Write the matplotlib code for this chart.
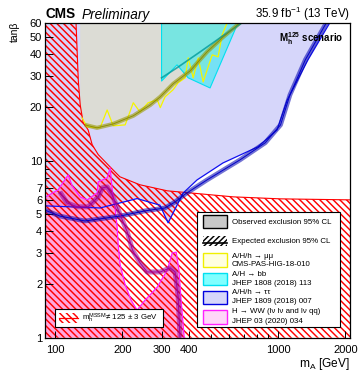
import numpy as np
import matplotlib
matplotlib.use('Agg')
import matplotlib.pyplot as plt
from matplotlib.patches import Polygon, Rectangle
from matplotlib.ticker import FixedLocator, NullFormatter, FixedFormatter

plt.rcParams['font.family'] = ['Liberation Sans', 'DejaVu Sans']
plt.rcParams['mathtext.default'] = 'regular'
plt.rcParams['hatch.linewidth'] = 1.05

# m_h^MSSM != 125 +- 3 GeV boundary (excluded below / left)
mh_mA = [124, 127, 129.5, 133.5, 140.5, 146.5, 156, 176.5, 195, 240, 318, 402, 628, 1020, 2100]
mh_tb = [60, 28.1, 20.6, 16.4, 14.9, 12.3, 10.8, 9.2, 8.1, 7.3, 6.75, 6.57, 6.24, 6.08, 6.0]

# A/H/h -> tautau (observed, expected)
tt_obs_mA = [90, 159, 233, 295, 321, 375, 433, 566, 811, 989, 1097, 1362, 1706]
tt_obs_tb = [5.55, 5.4, 6.1, 5.6, 4.45, 6.56, 7.78, 9.7, 11.95, 14.9, 21.9, 37.1, 60]
tt_exp_mA = [90, 105, 136, 195, 253, 311, 345, 383, 480, 675, 875, 1025, 1130, 1325, 1646]
tt_exp_tb = [5.25, 4.86, 4.56, 4.86, 5.2, 5.4, 5.84, 6.47, 7.78, 10.1, 12.6, 15.9, 23.5, 37.1, 60]

# A/H/h -> mumu (observed, expected)
mm_left = 129.5
mm_obs_mA = [132, 139, 159, 171, 182, 206, 224, 240, 261, 287, 296, 311, 338, 356, 383,
             395, 416, 438, 461, 506, 538, 561, 591]
mm_obs_tb = [17.4, 15.5, 15.3, 19.3, 15.7, 15.9, 21.2, 18.8, 21.2, 22.0, 19.9, 22.9, 25.1, 27.5, 29.3,
             38.0, 29.3, 38.0, 27.8, 39.5, 38.5, 51.3, 60]
mm_exp_mA = [136, 154, 182, 224, 267, 296, 338, 403, 480, 561, 675]
mm_exp_tb = [15.9, 15.3, 16.1, 17.9, 20.6, 22.9, 27.1, 32.1, 41.1, 49.3, 60]

# A/H -> bb (observed, expected)
bb_obs_mA = [300, 300, 352, 395, 495, 661]
bb_obs_tb = [60, 28.1, 34.7, 29.3, 25.7, 60]
bb_exp_mA = [300, 352, 447, 549, 689]
bb_exp_tb = [29.3, 33.4, 41.1, 49.3, 60]

# H -> WW (observed, expected)
ww_obs_mA = [90, 103, 114.4, 119.2, 129.5, 139.2, 154.3, 155.9, 171.1, 176.5, 180.2, 185.7, 189.6,
             191.7, 195.6, 206, 219, 233, 253, 287, 318, 335, 349, 359, 367, 379]
ww_obs_tb = [6.2, 6.83, 8.3, 7.19, 6.24, 6.0, 6.57, 7.58, 7.99, 9.09, 6.83, 5.4, 4.22,
             3.34, 2.58, 1.99, 1.63, 1.43, 1.63, 1.93, 2.41, 3.01, 3.04, 2.41, 1.63, 1.0]
ww_exp_mA = [105, 113, 125.5, 140.5, 156, 162.5, 171, 180, 189.6, 200, 210.5, 222, 240.5, 258.6,
             296, 327.5, 345, 356, 363]
ww_exp_tb = [6.66, 5.77, 5.48, 5.48, 6.24, 7.01, 7.1, 6.4, 5.48, 4.62, 3.96, 3.13, 2.64, 2.35,
             2.35, 2.48, 2.35, 1.70, 1.0]

x_major = [100, 200, 300, 400, 1000, 2000]
y_major = [1, 2, 3, 4, 5, 6, 7, 10, 20, 30, 40, 50, 60]

fig = plt.figure(figsize=(3.59, 3.73), dpi=100)
ax = fig.add_axes([0.1253, 0.0946, 0.8496, 0.8445])
ax.set_xscale('log')
ax.set_yscale('log')
ax.set_xlim(90, 2100)
ax.set_ylim(1, 60)
x0, x1 = ax.get_xlim()
y0, y1 = ax.get_ylim()


def poly(xs, ys, **kw):
    p = Polygon(np.column_stack([xs, ys]), closed=True, **kw)
    ax.add_patch(p)
    return p


# tautau observed exclusion (lavender)
poly(tt_obs_mA + [x0], tt_obs_tb + [y1], facecolor='#d6d6fa', edgecolor='none', zorder=1)
# mumu observed exclusion
poly([mm_left, mm_left] + mm_obs_mA, [y1, mm_obs_tb[0]] + mm_obs_tb,
     facecolor='#dcdcd5', edgecolor='none', zorder=1.1)
# bb observed exclusion
poly(bb_obs_mA, bb_obs_tb, facecolor='#00f0f0', alpha=0.45, edgecolor='none', zorder=1.2)
ax.plot(bb_obs_mA, bb_obs_tb, color='#00e0f0', lw=0.8, zorder=1.25)
# WW observed exclusion
poly(ww_obs_mA + [x0], ww_obs_tb + [y0], facecolor='#ff70c8', alpha=0.62, edgecolor='none', zorder=1.3)
ax.plot(ww_obs_mA, ww_obs_tb, color='#ff20ff', lw=0.9, zorder=2.5)

# mh constraint, red hatch
poly([x0] + mh_mA + [x1, x0], [y1] + mh_tb + [y0, y0], facecolor='none', edgecolor='#ff0000',
     lw=0, hatch='\\' * 5, zorder=1.5)
ax.plot(mh_mA, mh_tb, color='red', lw=0.8, zorder=2)

# observed lines
ax.plot(tt_obs_mA, tt_obs_tb, color='#1010f0', lw=0.9, zorder=2.6)
ax.plot(mm_obs_mA, mm_obs_tb, color='#f5f500', lw=0.9, zorder=2.6)

# expected bands
ax.plot(tt_exp_mA, tt_exp_tb, color='#0000b0', lw=3.4, alpha=0.55, zorder=2.7, solid_capstyle='butt')
ax.plot(tt_exp_mA, tt_exp_tb, color='#0000c8', lw=0.7, zorder=2.8)
ax.plot(ww_exp_mA, ww_exp_tb, color='#900090', lw=3.6, alpha=0.55, zorder=2.7, solid_capstyle='butt')
ax.plot(ww_exp_mA, ww_exp_tb, color='#a000a0', lw=0.7, zorder=2.8)
ax.plot(mm_exp_mA, mm_exp_tb, color='#9a9a00', lw=3.0, alpha=0.6, zorder=2.7, solid_capstyle='butt')
ax.plot(mm_exp_mA, mm_exp_tb, color='#8a8a00', lw=0.6, zorder=2.8)
ax.plot(bb_exp_mA, bb_exp_tb, color='#009a9a', lw=1.2, alpha=0.8, zorder=2.75)

# axes styling
ax.xaxis.set_major_locator(FixedLocator(x_major))
ax.xaxis.set_major_formatter(FixedFormatter([str(v) for v in x_major]))
ax.xaxis.set_minor_locator(FixedLocator([500, 600, 700, 800, 900]))
ax.xaxis.set_minor_formatter(NullFormatter())
ax.yaxis.set_major_locator(FixedLocator(y_major))
ax.yaxis.set_major_formatter(FixedFormatter([str(v) for v in y_major]))
ax.yaxis.set_minor_locator(FixedLocator([8, 9]))
ax.yaxis.set_minor_formatter(NullFormatter())
ax.tick_params(which='both', direction='in', labelsize=8, width=0.7, zorder=20)
ax.tick_params(axis='x', which='major', length=5, pad=5)
ax.tick_params(axis='y', which='major', length=5.5, pad=2)
ax.tick_params(which='minor', length=3)
for s in ax.spines.values():
    s.set_linewidth(0.9)
    s.set_zorder(20)

# texts
fig.text(45 / 359, 1 - 18.5 / 373, 'CMS', weight='bold', size=9.8, va='baseline', ha='left')
fig.text(82 / 359, 1 - 18.5 / 373, 'Preliminary', style='italic', size=9.8, va='baseline', ha='left')
fig.text(350 / 359, 1 - 18 / 373, '35.9 fb$^{-1}$ (13 TeV)', size=8.4, va='baseline', ha='right')
fig.text(15 / 359, 1 - 22 / 373, 'tanβ', rotation=90, size=7.5, ha='center', va='top')
fig.text(350 / 359, 1 - 364 / 373, 'm$_A$ [GeV]', size=8.6, ha='right', va='center')
ax.text(0.977, 0.951, '$M_h^{125}$ scenario', weight='bold', size=7, ha='right', va='center',
        transform=ax.transAxes, zorder=12)

# main legend
T = ax.transAxes
ax.add_patch(Rectangle((0.498, 0.034), 0.469, 0.365, transform=T, facecolor='white',
                       edgecolor='black', lw=0.8, zorder=10))
px, pw, tx = 0.518, 0.079, 0.613
ls = 5.7
ax.add_patch(Rectangle((px, 0.348), pw, 0.041, transform=T, facecolor='#c8c8c8',
                       edgecolor='black', lw=1.0, zorder=11))
ax.text(tx, 0.367, 'Observed exclusion 95% CL', size=ls, va='center', transform=T, zorder=12)
ax.add_patch(Rectangle((px, 0.291), pw, 0.032, transform=T, facecolor='none',
                       edgecolor='black', lw=0, hatch='/' * 6, zorder=11))
ax.plot([px, px + pw], [0.300, 0.300], color='black', lw=1.2, transform=T, zorder=12)
ax.text(tx, 0.307, 'Expected exclusion 95% CL', size=ls, va='center', transform=T, zorder=12)

entries = [
    (0.224, 0.044, '#ffffe0', '#f0f000', 'A/H/h → μμ', 'CMS-PAS-HIG-18-010', 0.259, 0.231),
    (0.167, 0.038, '#80ffff', '#00e0f0', 'A/H → bb', 'JHEP 1808 (2018) 113', 0.202, 0.173),
    (0.107, 0.041, '#d6d6fa', '#0000e0', 'A/H/h → ττ', 'JHEP 1809 (2018) 007', 0.142, 0.116),
    (0.043, 0.044, '#ffd6f8', '#ff20ff', 'H → WW (lν lν and lν qq)', 'JHEP 03 (2020) 034', 0.082, 0.050),
]
for yb, h, fc, ec, l1, l2, t1, t2 in entries:
    ax.add_patch(Rectangle((px, yb), pw, h, transform=T, facecolor=fc, edgecolor=ec,
                           lw=1.0, zorder=11))
    ax.text(tx, t1, l1, size=ls, va='center', transform=T, zorder=12)
    ax.text(tx, t2, l2, size=ls, va='center', transform=T, zorder=12)

# mh legend
ax.add_patch(Rectangle((0.033, 0.034), 0.354, 0.057, transform=T, facecolor='white',
                       edgecolor='black', lw=0.8, zorder=10))
ax.add_patch(Rectangle((0.046, 0.047), 0.062, 0.032, transform=T, facecolor='none',
                       edgecolor='red', lw=0, hatch='\\' * 5, zorder=11))
ax.plot([0.046, 0.108], [0.0625, 0.0625], color='red', lw=0.9, transform=T, zorder=12)
ax.text(0.121, 0.0625, '$m_h^{MSSM}$≠ 125 ± 3 GeV', size=ls, va='center', transform=T, zorder=12)

fig.savefig('out.png', dpi=100)
